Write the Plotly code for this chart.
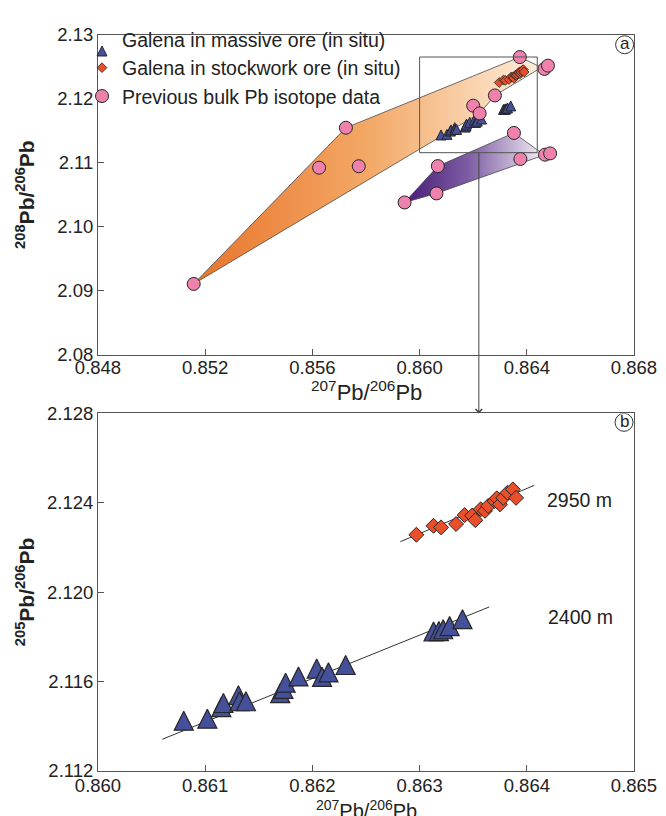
import plotly.graph_objects as go

# ---------------- data ----------------
# Previous bulk Pb isotope data (207Pb/206Pb, 208Pb/206Pb)
prev_x = [0.85157, 0.85625, 0.85725, 0.85773, 0.85944, 0.86063, 0.86068, 0.86200, 0.86224,
          0.86281, 0.86352, 0.86374, 0.86376, 0.86466, 0.86479, 0.86468, 0.86487]
prev_y = [2.09108, 2.10925, 2.11550, 2.10948, 2.10382, 2.10523, 2.10950, 2.11895, 2.11775,
          2.12055, 2.11469, 2.12655, 2.11062, 2.12469, 2.12521, 2.11129, 2.11149]

# Galena in massive ore (in situ)
massive_x = [0.86080, 0.86102, 0.86115, 0.86117, 0.86131, 0.86132, 0.86138, 0.86170, 0.86173, 0.86175,
             0.86187, 0.86204, 0.86209, 0.86215, 0.86231, 0.86313, 0.86318, 0.86322, 0.86328, 0.86340]
massive_y = [2.11411, 2.11420, 2.11472, 2.11490, 2.11525, 2.11498, 2.11498, 2.11534, 2.11553, 2.11581,
             2.11609, 2.11644, 2.11607, 2.11627, 2.11660, 2.11810, 2.11812, 2.11820, 2.11834, 2.11865]

# Galena in stockwork ore (in situ)
stock_x = [0.86297, 0.86313, 0.86320, 0.86334, 0.86342, 0.86349, 0.86352, 0.86357, 0.86361,
           0.86364, 0.86370, 0.86372, 0.86375, 0.86378, 0.86382, 0.86387, 0.86390]
stock_y = [2.12257, 2.12297, 2.12290, 2.12305, 2.12345, 2.12343, 2.12322, 2.12371, 2.12364,
           2.12386, 2.12408, 2.12420, 2.12393, 2.12422, 2.12445, 2.12460, 2.12422]

# trend lines (panel b)
fit2950_x = [0.86282, 0.86407]
fit2950_y = [2.12226, 2.12478]
fit2400_x = [0.86060, 0.86365]
fit2400_y = [2.11342, 2.11934]

# field outlines (panel a)
orange_x = [0.85157, 0.85725, 0.86374, 0.86455, 0.86281, 0.86224, 0.85157]
orange_y = [2.09108, 2.11550, 2.12655, 2.12492, 2.12055, 2.11775, 2.09108]
purple_x = [0.85944, 0.86068, 0.86352, 0.86440, 0.86468, 0.86063, 0.85944]
purple_y = [2.10382, 2.10950, 2.11469, 2.11200, 2.11129, 2.10523, 2.10382]

# zoom box (panel a)
box_x = [0.86000, 0.86439]
box_y = [2.11160, 2.12656]
link_x = 0.86221

# ticks
xa_ticks = [0.848, 0.852, 0.856, 0.860, 0.864, 0.868]
ya_ticks = [2.08, 2.09, 2.10, 2.11, 2.12, 2.13]
xb_ticks = [0.860, 0.861, 0.862, 0.863, 0.864, 0.865]
yb_ticks = [2.112, 2.116, 2.120, 2.124, 2.128]

labels_a = ["Galena in massive ore (in situ)", "Galena in stockwork ore (in situ)",
            "Previous bulk Pb isotope data"]

# ---------------- layout geometry ----------------
W, H = 666, 816
ML, MR, MT, MB = 90, 40, 19, 53
PW, PH = W - ML - MR, H - MT - MB
TOP_DOM = [0.5655, 1.0]
BOT_DOM = [0.0, 0.4859]
FONT = "Liberation Sans, Arial, sans-serif"
TXT = "#222222"
AXC = "#555555"

def pxx(px):
    return (px - ML) / PW

def pxy(py):
    return (H - MB - py) / PH

TRI = "#45509a"
DIA = "#e9502a"
CIR = "#ee82ad"
EDGE = "#262626"

def tri_marker(size, lw):
    # arrow-down turned upright, shifted so its centroid sits on the data point
    return dict(symbol="arrow-down", angle=180, size=size, standoff=size * 2 / 3,
                color=TRI, line=dict(color=EDGE, width=lw))

fig = go.Figure()

# fields
fig.add_trace(go.Scatter(
    x=orange_x, y=orange_y, mode="lines", fill="toself",
    line=dict(color="#4a4a4a", width=0.8),
    fillgradient=dict(type="horizontal",
                      colorscale=[[0, "#e8742b"], [0.5, "#f3a866"], [1, "#fdeedd"]]),
    showlegend=False, hoverinfo="skip", xaxis="x", yaxis="y"))
fig.add_trace(go.Scatter(
    x=purple_x, y=purple_y, mode="lines", fill="toself",
    line=dict(color="#4a4a4a", width=0.8),
    fillgradient=dict(type="horizontal",
                      colorscale=[[0, "#4a1c78"], [0.45, "#7c5ca3"], [1, "#f7f0f7"]]),
    showlegend=False, hoverinfo="skip", xaxis="x", yaxis="y"))

# panel a points
fig.add_trace(go.Scatter(
    x=massive_x, y=massive_y, mode="markers", name=labels_a[0],
    marker=tri_marker(10, 1), xaxis="x", yaxis="y"))
fig.add_trace(go.Scatter(
    x=stock_x, y=stock_y, mode="markers", name=labels_a[1],
    marker=dict(symbol="diamond", size=7.5, color=DIA, line=dict(color=EDGE, width=0.8)),
    xaxis="x", yaxis="y"))
fig.add_trace(go.Scatter(
    x=prev_x, y=prev_y, mode="markers", name=labels_a[2],
    marker=dict(symbol="circle", size=13, color=CIR, line=dict(color=EDGE, width=1)),
    xaxis="x", yaxis="y"))

# panel b
fig.add_trace(go.Scatter(x=fit2950_x, y=fit2950_y, mode="lines", line=dict(color="#333", width=1),
                         showlegend=False, hoverinfo="skip", xaxis="x2", yaxis="y2"))
fig.add_trace(go.Scatter(x=fit2400_x, y=fit2400_y, mode="lines", line=dict(color="#333", width=1),
                         showlegend=False, hoverinfo="skip", xaxis="x2", yaxis="y2"))
fig.add_trace(go.Scatter(
    x=massive_x, y=massive_y, mode="markers", showlegend=False,
    marker=tri_marker(19, 1.2), xaxis="x2", yaxis="y2"))
fig.add_trace(go.Scatter(
    x=stock_x, y=stock_y, mode="markers", showlegend=False,
    marker=dict(symbol="diamond", size=11.5, color=DIA, line=dict(color=EDGE, width=1)),
    xaxis="x2", yaxis="y2"))

axis_common = dict(showline=True, mirror=True, linecolor=AXC, linewidth=1, ticks="inside",
                   ticklen=6, tickcolor=AXC, showgrid=False, zeroline=False,
                   tickfont=dict(family=FONT, size=18.5, color=TXT))

fig.update_layout(
    width=W, height=H, margin=dict(l=ML, r=MR, t=MT, b=MB),
    paper_bgcolor="white", plot_bgcolor="white",
    font=dict(family=FONT, color=TXT, size=18),
    xaxis=dict(domain=[0, 1], anchor="y", range=[0.848, 0.868], tickvals=xa_ticks,
               ticktext=[f"{v:.3f}" for v in xa_ticks], ticklabelstandoff=-4, **axis_common),
    yaxis=dict(domain=TOP_DOM, anchor="x", range=[2.08, 2.13], tickvals=ya_ticks,
               ticktext=[f"{v:.2f}" for v in ya_ticks], **axis_common),
    xaxis2=dict(domain=[0, 1], anchor="y2", range=[0.860, 0.865], tickvals=xb_ticks,
                ticktext=[f"{v:.3f}" for v in xb_ticks], ticklabelstandoff=-2, **axis_common),
    yaxis2=dict(domain=BOT_DOM, anchor="x2", range=[2.112, 2.128], tickvals=yb_ticks,
                ticktext=[f"{v:.3f}" for v in yb_ticks], **axis_common),
    legend=dict(x=pxx(74), y=pxy(4), xanchor="left", yanchor="top",
                bgcolor="rgba(0,0,0,0)", font=dict(family=FONT, size=19.5, color=TXT),
                itemwidth=30, tracegroupgap=0),
    showlegend=True,
)

# zoom box
fig.add_shape(type="rect", xref="x", yref="y", x0=box_x[0], x1=box_x[1], y0=box_y[0], y1=box_y[1],
              line=dict(color="#555", width=1), layer="above")

# connector arrow from the box to panel b
tail_paper = TOP_DOM[0] + (box_y[0] - 2.08) / 0.05 * (TOP_DOM[1] - TOP_DOM[0])
head_paper = BOT_DOM[1]
fig.add_annotation(x=link_x, xref="x", y=head_paper, yref="paper", text=" ",
                   showarrow=True, ax=0, ay=-(tail_paper - head_paper) * PH,
                   arrowhead=4, arrowsize=1.3, arrowwidth=1, arrowcolor="#444", standoff=0,
                   font=dict(size=2))

# circled panel letters
for xr, yr, xv, yv, letter in [("x", "y", 0.86765, 2.12848, "a"), ("x2", "y2", 0.864907, 2.12760, "b")]:
    fig.add_shape(type="circle", xref=xr, yref=yr, xsizemode="pixel", ysizemode="pixel",
                  xanchor=xv, yanchor=yv, x0=-9, x1=9, y0=-9, y1=9,
                  line=dict(color="#333", width=1))
    fig.add_annotation(x=xv, y=yv, xref=xr, yref=yr, text=letter, showarrow=False,
                       xanchor="center", yanchor="middle",
                       font=dict(family=FONT, size=17, color=TXT), yshift=1)

# depth labels
fig.add_annotation(x=0.864491, y=2.12412, xref="x2", yref="y2", text="2950 m", showarrow=False,
                   xanchor="center", yanchor="middle", font=dict(family=FONT, size=19.5, color=TXT))
fig.add_annotation(x=0.86450, y=2.11888, xref="x2", yref="y2", text="2400 m", showarrow=False,
                   xanchor="center", yanchor="middle", font=dict(family=FONT, size=19.5, color=TXT))

# axis titles
xt = "<sup>207</sup>Pb/<sup>206</sup>Pb"
fig.add_annotation(x=0.5, y=pxy(379), xref="paper", yref="paper", showarrow=False,
                   xanchor="center", yanchor="middle", text=xt,
                   font=dict(family=FONT, size=22, color=TXT))
fig.add_annotation(x=0.5, y=pxy(802), xref="paper", yref="paper", showarrow=False,
                   xanchor="center", yanchor="middle", text=xt,
                   font=dict(family=FONT, size=20, color=TXT))
fig.add_annotation(x=pxx(17), y=(TOP_DOM[0] + TOP_DOM[1]) / 2, xref="paper", yref="paper",
                   showarrow=False, textangle=-90, xanchor="center", yanchor="middle",
                   text="<b><sup>208</sup>Pb/<sup>206</sup>Pb</b>",
                   font=dict(family=FONT, size=21, color=TXT))
fig.add_annotation(x=pxx(17), y=(BOT_DOM[0] + BOT_DOM[1]) / 2, xref="paper", yref="paper",
                   showarrow=False, textangle=-90, xanchor="center", yanchor="middle",
                   text="<b><sup>205</sup>Pb/<sup>206</sup>Pb</b>",
                   font=dict(family=FONT, size=21, color=TXT))

fig.write_html("out.html")
